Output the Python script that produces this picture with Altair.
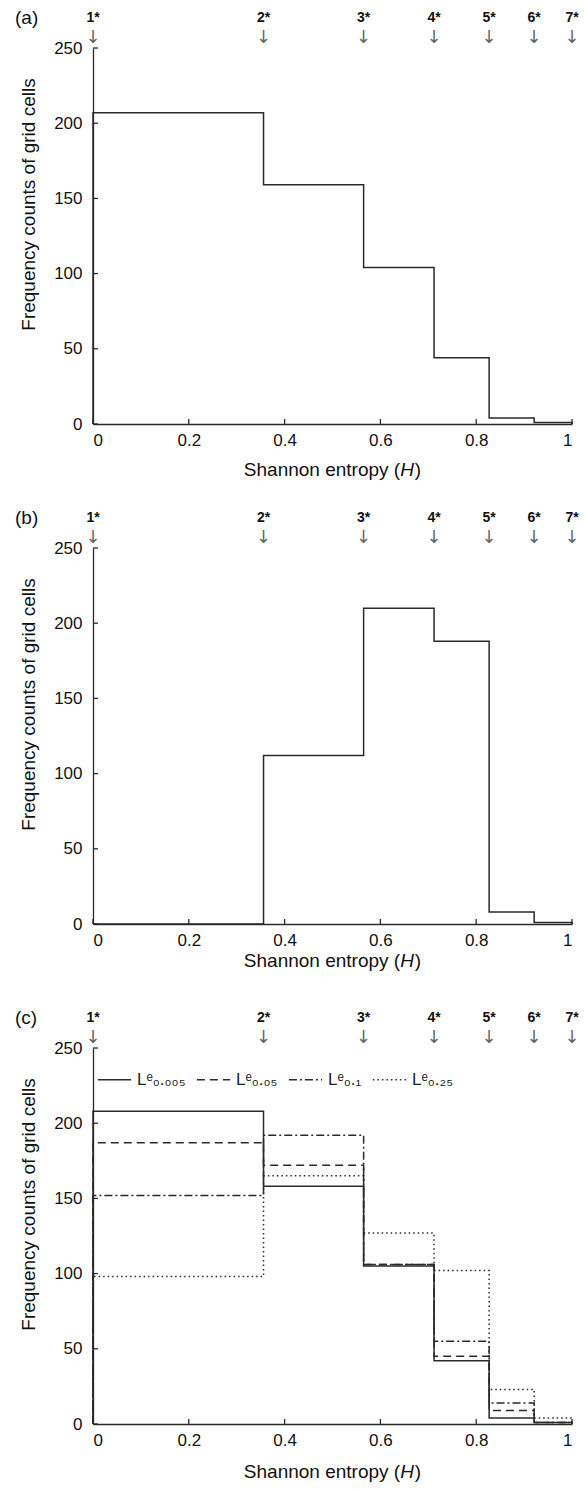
import altair as alt
import pandas as pd

# ---- data -------------------------------------------------------------
edges = [0.0, 0.356, 0.565, 0.712, 0.827, 0.921, 1.0]   # bin edges (H)
star_labels = ["1*", "2*", "3*", "4*", "5*", "6*", "7*"]
counts_a = [207, 159, 104, 44, 4, 1]
counts_b = [0, 112, 210, 188, 8, 1]
series_c = ["L\u1d49\u2080.\u2080\u2080\u2085", "L\u1d49\u2080.\u2080\u2085",
            "L\u1d49\u2080.\u2081", "L\u1d49\u2080.\u2082\u2085"]
counts_c = [
    [208, 158, 105, 42, 4, 1],
    [187, 172, 106, 45, 9, 1],
    [152, 192, 106, 55, 14, 1],
    [98, 165, 127, 102, 23, 4],
]
dash_c = [[1, 0], [8, 5], [8, 3, 2, 3], [1.5, 3]]
x_ticks = [0, 0.2, 0.4, 0.6, 0.8, 1.0]
y_ticks = [0, 50, 100, 150, 200, 250]
xtitle_parts = ["Shannon entropy (", "H", ")"]

W, H = 479, 376
SP = 124
FONT = "Liberation Sans"
INK = "#2a2a2a"
TFS = 19  # axis title font size


def step_rows(counts, series):
    rows = [(edges[0], 0)]
    for i, c in enumerate(counts):
        rows.append((edges[i], c))
        rows.append((edges[i + 1], c))
    rows.append((edges[-1], 0))
    return [{"x": x, "y": y, "o": k, "s": series} for k, (x, y) in enumerate(rows)]


xscale = alt.Scale(domain=[0, 1], nice=False, zero=False)
yscale = alt.Scale(domain=[0, 250], nice=False)


def panel(tag, line_df, multi, xtitle_y, ytitle_y):
    xaxis = alt.Axis(values=x_ticks, format="~g", title=None, labelPadding=8)
    yaxis = alt.Axis(values=y_ticks, title="Frequency counts of grid cells",
                     titleX=-59, titleY=ytitle_y, titleBaseline="alphabetic",
                     titleAlign="center", labelPadding=11)
    X = lambda f: alt.X(f, scale=xscale, axis=xaxis)
    Y = lambda f: alt.Y(f, scale=yscale, axis=yaxis)
    enc = dict(x=X("x:Q"), y=Y("y:Q"), order="o:Q")
    if multi:
        enc["strokeDash"] = alt.StrokeDash(
            "s:N",
            scale=alt.Scale(domain=series_c, range=dash_c),
            sort=series_c,
            legend=alt.Legend(orient="none", legendX=4, legendY=2 * (H + SP) + 14,
                              direction="horizontal", title=None,
                              symbolType="stroke", symbolSize=1100,
                              symbolStrokeWidth=1.4, symbolStrokeColor=INK,
                              labelFontSize=17, labelFont=FONT, labelColor="#222",
                              labelOffset=5, columnPadding=8, padding=0),
        )
        enc["detail"] = "s:N"
    lines = alt.Chart(line_df).mark_line(color=INK, strokeWidth=1.5).encode(**enc)

    xt = alt.Chart(pd.DataFrame({"x": x_ticks})).mark_rule(color=INK, strokeWidth=1.3).encode(
        x=X("x:Q"), y=alt.value(H), y2=alt.value(H - 5))
    yt = alt.Chart(pd.DataFrame({"y": y_ticks})).mark_rule(color=INK, strokeWidth=1.3).encode(
        y=Y("y:Q"), x=alt.value(0), x2=alt.value(5))

    sdf = pd.DataFrame({"x": edges, "lab": star_labels, "arr": ["\u2193"] * len(edges)})
    stars = alt.Chart(sdf).mark_text(font=FONT, fontSize=14, fontWeight="bold",
                                     color="#111", baseline="middle").encode(
        x=X("x:Q"), y=alt.value(-30), text="lab:N")
    arrows = alt.Chart(sdf).mark_text(font="DejaVu Sans", fontSize=18, color="#666",
                                      baseline="middle").encode(
        x=X("x:Q"), y=alt.value(-10), text="arr:N")
    label = alt.Chart(pd.DataFrame({"t": [tag]})).mark_text(
        font=FONT, fontSize=19, align="left", baseline="middle", color="#111").encode(
        x=alt.value(-78), y=alt.value(-30), text="t:N")

    # x-axis title with italic H, made of three text pieces
    w0 = 8.227 * TFS
    w1 = 0.722 * TFS
    w2 = 0.333 * TFS
    x0 = W / 2 - (w0 + w1 + w2 + 1) / 2
    ty = H + xtitle_y
    t0 = alt.Chart(pd.DataFrame({"t": [xtitle_parts[0]]})).mark_text(
        font=FONT, fontSize=TFS, align="left", baseline="alphabetic", color="#111").encode(
        x=alt.value(x0), y=alt.value(ty), text="t:N")
    t1 = alt.Chart(pd.DataFrame({"t": [xtitle_parts[1]]})).mark_text(
        font=FONT, fontSize=TFS, fontStyle="italic", align="left", baseline="alphabetic",
        color="#111").encode(x=alt.value(x0 + w0), y=alt.value(ty), text="t:N")
    t2 = alt.Chart(pd.DataFrame({"t": [xtitle_parts[2]]})).mark_text(
        font=FONT, fontSize=TFS, align="left", baseline="alphabetic", color="#111").encode(
        x=alt.value(x0 + w0 + w1 + 1), y=alt.value(ty), text="t:N")

    return alt.layer(lines, xt, yt, stars, arrows, label, t0, t1, t2).properties(
        width=W, height=H)


df_a = pd.DataFrame(step_rows(counts_a, "a"))
df_b = pd.DataFrame(step_rows(counts_b, "b"))
rows_c = []
for name, cnt in zip(series_c, counts_c):
    rows_c += step_rows(cnt, name)
df_c = pd.DataFrame(rows_c)

pa = panel("(a)", df_a, False, 52, 156)
pb = panel("(b)", df_b, False, 43, 156)
pc = panel("(c)", df_c, True, 54, 156)

chart = alt.vconcat(pa, pb, pc, spacing=SP, bounds="flush").properties(
    padding={"left": 15, "top": 9, "right": 5, "bottom": 5}
).configure_view(stroke=None).configure_axis(
    grid=False, ticks=False, domainColor=INK, domainWidth=1.3,
    labelFont=FONT, labelFontSize=17, labelColor="#111",
    titleFont=FONT, titleFontSize=TFS, titleFontWeight="normal", titleColor="#111",
)

chart.save("out.html", embed_options={"renderer": "svg", "actions": False})
